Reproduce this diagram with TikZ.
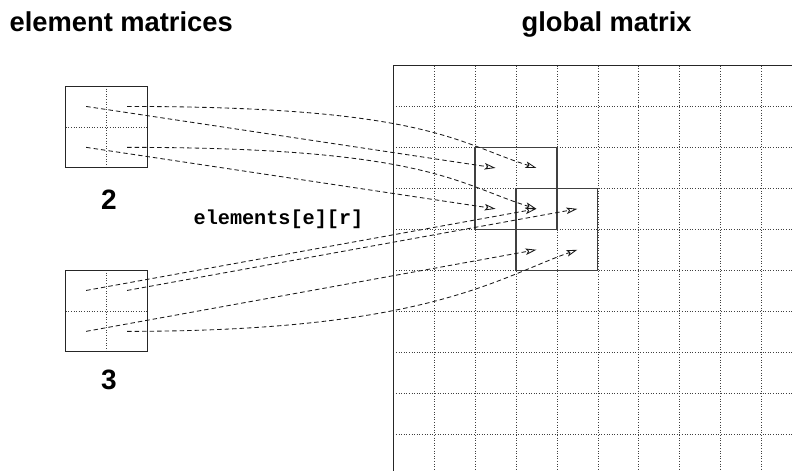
\documentclass[tikz,border=0pt]{standalone}
\usepackage{fontspec}
\setmainfont{Liberation Sans}
\setmonofont{Liberation Mono}
\usetikzlibrary{arrows.meta}
\begin{document}
\begin{tikzpicture}[x=1pt,y=-1pt,
  gridline/.style={dotted, line width=0.6pt, black!75},
  cellline/.style={dotted, line width=0.6pt, black!75},
  frame/.style={line width=1pt, black!85},
  blockbox/.style={line width=1.3pt, black!75},
  mapline/.style={dash pattern=on 4.5pt off 3pt, line width=0.85pt, black!90,
    -{Stealth[open,length=11pt,width=6.5pt,inset=2.5pt]}},
  titletext/.style={font=\fontsize{27.3}{31}\selectfont\bfseries, inner sep=0pt, anchor=base west},
  numtext/.style={font=\fontsize{28}{32}\selectfont\bfseries, inner sep=0pt, anchor=center},
  codetext/.style={font=\fontsize{20.2}{24}\selectfont\ttfamily\bfseries, inner sep=0pt, anchor=center}
]
\useasboundingbox (0,0) rectangle (792,471);

% titles
\node[titletext] (t1) at (9.5,31.7) {element matrices};
\node[titletext] (t2) at (521.5,31.7) {global matrix};

% global matrix grid
\foreach \k in {1,...,9} {
  \draw[gridline] (393.3+40.9*\k,65.7) -- (393.3+40.9*\k,471);
  \draw[gridline] (393.3,65.7+40.9*\k) -- (792,65.7+40.9*\k);
}
\draw[frame] (792,65.7) -- (393.3,65.7) -- (393.3,471);

% overlapping blocks in the global matrix
\draw[blockbox] (475.1,147.5) rectangle (556.9,229.3);
\draw[blockbox] (516.0,188.4) rectangle (597.8,270.2);

% element matrix 2
\draw[cellline] (106.6,86) -- (106.6,167.8);
\draw[cellline] (65.7,126.9) -- (147.5,126.9);
\draw[frame] (65.7,86) rectangle (147.5,167.8);
\node[numtext] (n2) at (109,199.5) {2};

% element matrix 3
\draw[cellline] (106.6,270) -- (106.6,351.8);
\draw[cellline] (65.7,310.9) -- (147.5,310.9);
\draw[frame] (65.7,270) rectangle (147.5,351.8);
\node[numtext] (n3) at (109,380) {3};

\node[codetext] (lbl) at (278.5,219) {elements[e][r]};

% source points (element cell centres)
\coordinate (a11) at (86.15,106.45);
\coordinate (a12) at (127.05,106.45);
\coordinate (a21) at (86.15,147.35);
\coordinate (a22) at (127.05,147.35);
\coordinate (b11) at (86.15,290.45);
\coordinate (b12) at (127.05,290.45);
\coordinate (b21) at (86.15,331.35);
\coordinate (b22) at (127.05,331.35);

% target points (global cell centres)
\coordinate (g22) at (495.55,167.95);
\coordinate (g23) at (536.45,167.95);
\coordinate (g32) at (495.55,208.85);
\coordinate (g33) at (536.45,208.85);
\coordinate (g34) at (577.35,208.85);
\coordinate (g43) at (536.45,249.75);
\coordinate (g44) at (577.35,249.75);

% element 2 mappings
\draw[mapline] (a11) -- (g22);
\draw[mapline] (a12) .. controls (427,106.45) and (457,143.2) .. (g23);
\draw[mapline] (a21) -- (g32);
\draw[mapline] (a22) .. controls (427,147.35) and (457,184.1) .. (g33);

% element 3 mappings
\draw[mapline] (b11) -- (g33);
\draw[mapline] (b12) -- (g34);
\draw[mapline] (b21) -- (g43);
\draw[mapline] (b22) .. controls (427,331.35) and (497,278) .. (g44);
\end{tikzpicture}
\end{document}
